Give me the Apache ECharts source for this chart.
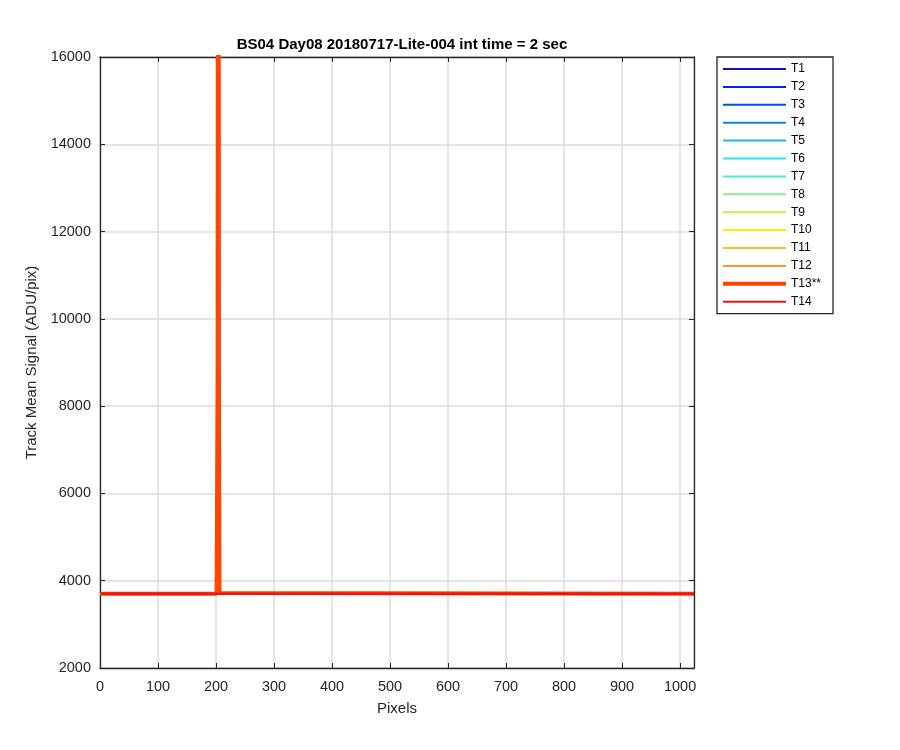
<!DOCTYPE html>
<html>
<head>
<meta charset="utf-8">
<script src="https://cdn.jsdelivr.net/npm/echarts@6/dist/echarts.min.js"></script>
<style>html,body{margin:0;padding:0;background:#fff;}#c{width:900px;height:750px;}</style>
</head>
<body>
<div id="c"></div>
<script>
var titleText = 'BS04 Day08 20180717-Lite-004 int time = 2 sec';
var trackNames = ['T1','T2','T3','T4','T5','T6','T7','T8','T9','T10','T11','T12','T13**','T14'];
var trackColors = ['#1414B4','#0028E6','#0050F0','#1480F0','#20B4F0','#28E6F0','#46F0C8','#82F082','#C0F046','#F8F000','#F8C028','#F89632','#FF4500','#F01414'];
var trackWidths = [1.5,1.5,1.5,1.5,1.5,1.5,1.5,1.5,1.5,1.5,1.5,1.5,4,2.5];
// baseline pixels / values (all tracks)
var basePixels = [1, 1024];
var baseValues = [3700, 3700];
// T13 spike
var t13Pixels = [1, 201, 202, 203, 204, 205, 206, 1024];
var t13Values = [3700, 3700, 3720, 9000, 40000, 9000, 3720, 3700];
var xTicks = [0,100,200,300,400,500,600,700,800,900,1000];
var yTicks = [2000,4000,6000,8000,10000,12000,14000,16000];

function pairs(xs, ys){ return xs.map(function(x,i){ return [x, ys[i]]; }); }

var font = 'Liberation Sans, Arial, Helvetica, sans-serif';
var series = trackNames.map(function(n,i){
  var d = (i === 12) ? pairs(t13Pixels, t13Values) : pairs(basePixels, baseValues);
  return {
    name: n, type: 'line', data: d, symbol: 'none', clip: true, animation: false,
    lineStyle: {color: trackColors[i], width: trackWidths[i]},
    itemStyle: {color: trackColors[i]}
  };
});
var legendData = trackNames.map(function(n,i){
  var h = i === 12 ? 4 : 2;
  return {name: n, icon: 'path://M0 0H63V' + h + 'H0Z', itemStyle: {color: trackColors[i]}};
});

var axisColor = '#262626';
function tickFmt(list){ return function(v){ return list.indexOf(v) >= 0 ? String(v) : ''; }; }

var chart = echarts.init(document.getElementById('c'), null, {renderer: 'canvas'});
chart.setOption({
  backgroundColor: '#fff',
  animation: false,
  title: {
    text: titleText, left: 397, top: 32, textAlign: 'center',
    textStyle: {fontFamily: font, fontSize: 15, fontWeight: 'bold', color: '#000'}
  },
  legend: {
    orient: 'vertical', left: 717, top: 57,
    padding: [6, 12, 6, 6],
    itemWidth: 63, itemHeight: 12, itemGap: 5.9,
    borderColor: axisColor, borderWidth: 1.3, backgroundColor: '#fff',
    textStyle: {fontFamily: font, fontSize: 12, color: '#000'},
    data: legendData
  },
  grid: {left: 100, right: 206, top: 57, bottom: 82, show: false},
  xAxis: [{
    type: 'value', min: 0, max: 1024, interval: 100,
    name: 'Pixels', nameLocation: 'middle', nameGap: 33,
    nameTextStyle: {fontFamily: font, fontSize: 15, color: axisColor},
    axisLine: {show: true, onZero: false, lineStyle: {color: axisColor, width: 1.3}},
    axisTick: {show: true, inside: true, length: 5, lineStyle: {color: axisColor}},
    axisLabel: {fontFamily: font, fontSize: 14.5, color: axisColor, margin: 11, formatter: tickFmt(xTicks)},
    splitLine: {show: true, lineStyle: {color: '#dcdcdc', width: 1.5}}
  }, {
    type: 'value', position: 'top', min: 0, max: 1024, interval: 100,
    axisLine: {show: true, onZero: false, lineStyle: {color: axisColor, width: 1.3}},
    axisTick: {show: true, inside: true, length: 5, lineStyle: {color: axisColor}},
    axisLabel: {show: false}, splitLine: {show: false}
  }],
  yAxis: [{
    type: 'value', position: 'left', min: 2000, max: 16000, interval: 2000,
    name: 'Track Mean Signal (ADU/pix)', nameLocation: 'middle', nameGap: 49,
    nameTextStyle: {fontFamily: font, fontSize: 15, color: axisColor},
    axisLine: {show: true, onZero: false, lineStyle: {color: axisColor, width: 1.3}},
    axisTick: {show: true, inside: true, length: 5, lineStyle: {color: axisColor}},
    axisLabel: {fontFamily: font, fontSize: 14.5, color: axisColor, margin: 9, formatter: tickFmt(yTicks)},
    splitLine: {show: true, lineStyle: {color: '#dcdcdc', width: 1.5}}
  }, {
    type: 'value', position: 'right', min: 2000, max: 16000, interval: 2000,
    axisLine: {show: true, onZero: false, lineStyle: {color: axisColor, width: 1.3}},
    axisTick: {show: true, inside: true, length: 5, lineStyle: {color: axisColor}},
    axisLabel: {show: false}, splitLine: {show: false}
  }],
  series: series
});
</script>
</body>
</html>
